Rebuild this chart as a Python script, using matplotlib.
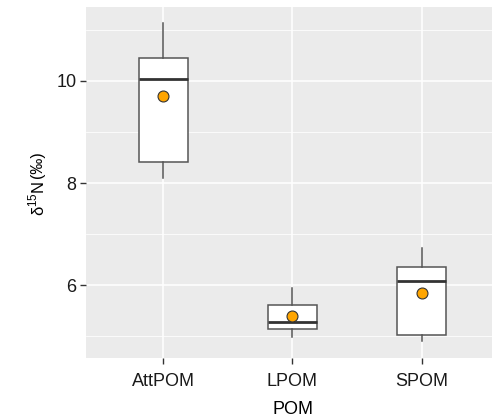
import matplotlib
matplotlib.use("Agg")
import matplotlib.pyplot as plt
from matplotlib.ticker import MultipleLocator

plt.rcParams['font.family'] = ['Liberation Sans', 'DejaVu Sans']
plt.rcParams['mathtext.fontset'] = 'custom'
plt.rcParams['mathtext.rm'] = 'Liberation Sans'

# values
groups = ["AttPOM", "LPOM", "SPOM"]
whislo = [8.10, 4.99, 4.90]
q1 = [8.42, 5.14, 5.03]
med = [10.04, 5.28, 6.08]
q3 = [10.45, 5.61, 6.35]
whishi = [11.13, 5.95, 6.72]
means = [9.71, 5.40, 5.85]

stats = []
for i, g in enumerate(groups):
    stats.append(dict(label=g, whislo=whislo[i], q1=q1[i], med=med[i],
                      q3=q3[i], whishi=whishi[i], fliers=[]))

fig = plt.figure(figsize=(4.92, 4.2), dpi=100)
# panel runs off the right edge in the reference
ax = fig.add_axes([86/492, 1 - 358/420, 413/492, 351/420])
ax.set_facecolor("#EBEBEB")
for s in ax.spines.values():
    s.set_visible(False)

pos = list(range(1, len(groups) + 1))
ax.bxp(stats, positions=pos, widths=0.38, patch_artist=True, showcaps=False,
       boxprops=dict(facecolor="white", edgecolor="#555555", linewidth=1.1),
       whiskerprops=dict(color="#555555", linewidth=1.1),
       medianprops=dict(color="#333333", linewidth=2.0),
       zorder=3)
ax.scatter(pos, means, s=62, color="#FFA500", edgecolor="#333333",
           linewidth=0.8, zorder=4)

ax.set_xlim(0.4, 3.6)
ax.set_ylim(4.57, 11.45)
ax.set_xticks(pos)
ax.set_xticklabels(groups)
ax.yaxis.set_minor_locator(MultipleLocator(1))
ax.set_yticks([6, 8, 10])
ax.grid(which="major", color="white", linewidth=1.1)
ax.grid(which="minor", axis="y", color="white", linewidth=0.55)
ax.set_axisbelow(True)
ax.tick_params(axis="both", which="major", length=4, width=1, color="#333333",
               labelsize=13, labelcolor="#1a1a1a", pad=3)
ax.tick_params(axis="x", which="major", pad=7)
ax.tick_params(axis="y", which="minor", length=0)

ax.set_xlabel("POM", fontsize=13, labelpad=8)

# y label: δ15N with a smaller (‰) after it
lab = fig.text(37/492, 1 - 216/420, r"δ$^{\mathregular{15}}$N", rotation=90,
               ha="center", va="bottom", fontsize=12)
fig.canvas.draw()
bb = lab.get_window_extent()
fig.text(38/492, (bb.y1 + 3) / fig.bbox.height, "(‰)", rotation=90,
         ha="center", va="bottom", fontsize=11.5)

fig.savefig("out.png", dpi=100)
